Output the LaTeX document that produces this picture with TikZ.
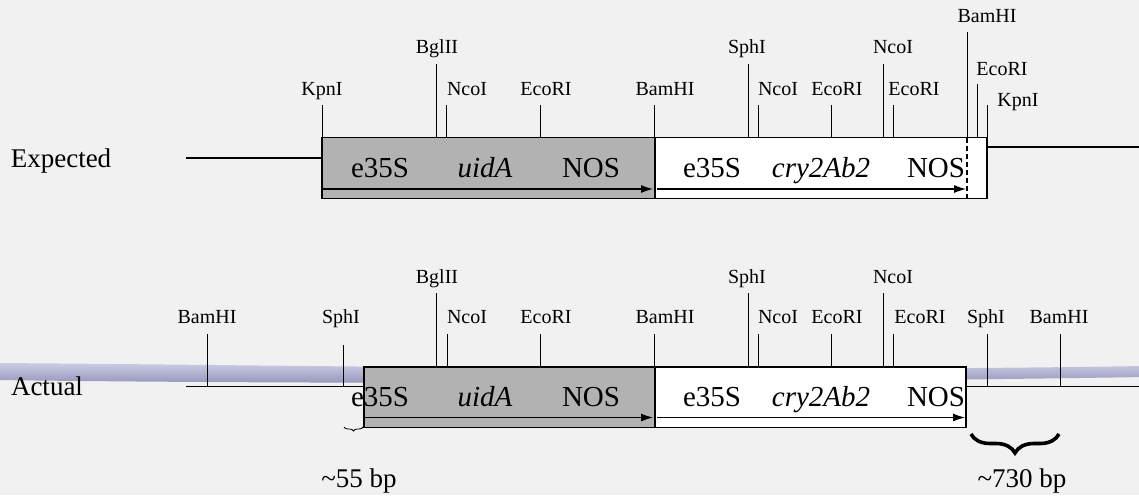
\documentclass[tikz,border=0pt]{standalone}
\usepackage{fontspec}
\setmainfont{Liberation Serif}
\usetikzlibrary{arrows.meta,decorations.pathreplacing}
\definecolor{slidebg}{RGB}{241,241,241}
\definecolor{swooshtop}{RGB}{204,204,228}
\definecolor{swooshbot}{RGB}{148,148,186}
\definecolor{boxgray}{RGB}{178,178,178}
\tikzset{
  enzyme/.style={font=\fontsize{20}{24}\selectfont, anchor=base},
  feature/.style={font=\fontsize{29}{34}\selectfont, anchor=base},
  rowname/.style={font=\fontsize{27}{32}\selectfont, anchor=base},
  cutmark/.style={black, line width=0.9pt},
  dnaline/.style={black, line width=1.1pt},
  cassette/.style={draw=black, line width=1.2pt},
  readthrough/.style={black, line width=1.1pt, -{Latex[length=12pt,width=8pt]}},
}

\begin{document}
\begin{tikzpicture}[x=1pt,y=-1pt]
\tikzstyle{every node}+=[inner sep=0pt]
\fill [slidebg] (0,0) rectangle (1139,495);
\useasboundingbox (0,0) rectangle (1139,495);
% slide swoosh
\shade [top color=swooshtop, bottom color=swooshbot] (-5,363) .. controls (300,365) and (700,373) .. (1145,366) -- (1145,377) .. controls (700,384) and (300,384) .. (-5,380) -- cycle;

% expected
\node [rowname] (expected) at (61,167) {Expected};
\draw [dnaline] (186,158) -- (322,158);
\draw [dnaline] (987,147) -- (1139,147);
\filldraw [cassette, fill=boxgray] (322,137.5) rectangle (655,198.5);
\filldraw [cassette, fill=white] (655,137.5) rectangle (987,198.5);
\draw [black, line width=2.4pt] (655,137.5) -- (655,198.5);
\draw [readthrough] (322,189) -- (653,189);
\draw [readthrough] (657,189) -- (966,189);
\draw [black, line width=1.4pt, dash pattern=on 5pt off 3pt] (967,137.5) -- (967,198.5);
\node [feature] (e1) at (380,177) {e35S};
\node [feature] (u1) at (485,177) {\itshape uidA};
\node [feature] (n1) at (591,177) {NOS};
\node [feature] (e2) at (712,177) {e35S};
\node [feature] (c2) at (821,177) {\itshape cry2Ab2};
\node [feature] (n2) at (936,177) {NOS};
\draw [cutmark] (322,137.5) -- (322,105);
\node [enzyme] (kpn1) at (322,95) {KpnI};
\draw [cutmark] (436,137.5) -- (436,64);
\node [enzyme] (bgl1) at (437,54) {BglII};
\draw [cutmark] (446,137.5) -- (446,105);
\node [enzyme] (nco1) at (467,95) {NcoI};
\draw [cutmark] (540,137.5) -- (540,105);
\node [enzyme] (eco1) at (546,95) {EcoRI};
\draw [cutmark] (654,137.5) -- (654,105);
\node [enzyme] (bam1) at (665,95) {BamHI};
\draw [cutmark] (748,137.5) -- (748,64);
\node [enzyme] (sph1) at (747,54) {SphI};
\draw [cutmark] (758,137.5) -- (758,105);
\node [enzyme] (nco2) at (778,95) {NcoI};
\draw [cutmark] (831,137.5) -- (831,105);
\node [enzyme] (eco2) at (837,95) {EcoRI};
\draw [cutmark] (883,137.5) -- (883,64);
\node [enzyme] (nco3) at (893,54) {NcoI};
\draw [cutmark] (893,137.5) -- (893,105);
\node [enzyme] (eco3) at (914,95) {EcoRI};
\draw [cutmark] (967,137.5) -- (967,32);
\node [enzyme] (bam2) at (987,23) {BamHI};
\draw [cutmark] (977,137.5) -- (977,84);
\node [enzyme] (eco4) at (1002,75) {EcoRI};
\draw [cutmark] (987,137.5) -- (987,105);
\node [enzyme] (kpn2) at (1018,106) {KpnI};

% actual
\node [rowname] (actual) at (47,395) {Actual};
\draw [dnaline] (186,386.7) -- (364,386.7);
\draw [dnaline] (966,386.7) -- (1139,386.7);
\filldraw [cassette, fill=boxgray] (364,367) rectangle (655,427.5);
\filldraw [cassette, fill=white] (655,367) rectangle (966,427.5);
\draw [black, line width=2.4pt] (655,367) -- (655,427.5);
\draw [readthrough] (364,417.5) -- (653,417.5);
\draw [readthrough] (657,417.5) -- (965,417.5);
\node [feature] (e3) at (380,406) {e35S};
\node [feature] (u3) at (485,406) {\itshape uidA};
\node [feature] (n3) at (591,406) {NOS};
\node [feature] (e4) at (712,406) {e35S};
\node [feature] (c4) at (821,406) {\itshape cry2Ab2};
\node [feature] (n4) at (936,406) {NOS};
\draw [cutmark] (207,386.7) -- (207,334);
\node [enzyme] (bam3) at (207,323) {BamHI};
\draw [cutmark] (343,386.7) -- (343,345);
\node [enzyme] (sph2) at (341,323) {SphI};
\draw [cutmark] (436,367) -- (436,293);
\node [enzyme] (bgl2) at (437,283) {BglII};
\draw [cutmark] (447,367) -- (447,334);
\node [enzyme] (nco4) at (467,323) {NcoI};
\draw [cutmark] (540,367) -- (540,334);
\node [enzyme] (eco5) at (546,323) {EcoRI};
\draw [cutmark] (654,367) -- (654,334);
\node [enzyme] (bam4) at (665,323) {BamHI};
\draw [cutmark] (748,367) -- (748,293);
\node [enzyme] (sph3) at (747,283) {SphI};
\draw [cutmark] (758,367) -- (758,334);
\node [enzyme] (nco5) at (778,323) {NcoI};
\draw [cutmark] (831,367) -- (831,334);
\node [enzyme] (eco6) at (837,323) {EcoRI};
\draw [cutmark] (883,367) -- (883,293);
\node [enzyme] (nco6) at (893,283) {NcoI};
\draw [cutmark] (893,367) -- (893,334);
\node [enzyme] (eco7) at (920,323) {EcoRI};
\draw [cutmark] (987,386.7) -- (987,334);
\node [enzyme] (sph4) at (986,323) {SphI};
\draw [cutmark] (1060,386.7) -- (1060,334);
\node [enzyme] (bam5) at (1059,323) {BamHI};
\draw [black, line width=0.8pt, decorate, decoration={brace, mirror, amplitude=4pt}] (344,427) -- (363,427);
\node [rowname] (left bp) at (359,487) {\textasciitilde55 bp};
\draw [black, line width=3.6pt, decorate, decoration={brace, mirror, amplitude=19pt}] (971,434) -- (1059,434);
\node [rowname] (right bp) at (1022,487) {\textasciitilde730 bp};
\end{tikzpicture}
\end{document}
